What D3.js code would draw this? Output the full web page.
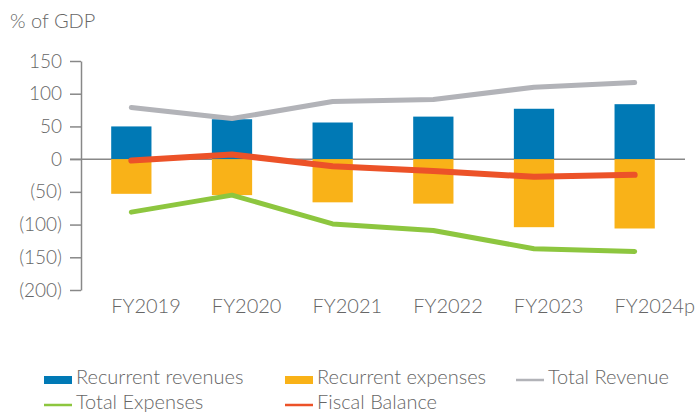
<!DOCTYPE html>
<html>
<head>
  <script src="https://d3js.org/d3.v7.min.js"></script>
  <style>
    body { margin: 0; background: #fff; }
    svg text { font-family: Lato, "Open Sans", sans-serif; font-weight: 300; fill: #666; }
  </style>
</head>
<body>
  <div id="chart_div"></div>

  <script>
    // Chart values (% of GDP)
    var categories = ["FY2019", "FY2020", "FY2021", "FY2022", "FY2023", "FY2024p"];
    var recurrentRevenues = [50, 61, 56, 65, 77, 84];
    var recurrentExpenses = [-53, -55, -66, -68, -104, -106];
    var totalRevenue = [79, 62, 88, 91, 110, 117];
    var totalExpenses = [-81, -55, -99, -109, -137, -141];
    var fiscalBalance = [-2, 7, -11, -18, -27, -24];
    var yTicks = [-200, -150, -100, -50, 0, 50, 100, 150];

    var width = 698, height = 412;

    var svg = d3.select("#chart_div")
      .append("svg")
      .attr("width", width)
      .attr("height", height);

    var x = d3.scaleBand()
      .domain(categories)
      .range([81, 685])
      .paddingInner(0.6)
      .paddingOuter(0.3);

    var y = d3.scaleLinear()
      .domain([-200, 150])
      .range([290, 61]);

    // title
    svg.append("text")
      .attr("x", 10)
      .attr("y", 28)
      .style("font-size", "20px")
      .text("% of GDP");

    // y axis
    var yAxis = svg.append("g")
      .attr("transform", "translate(81,0)")
      .call(d3.axisLeft(y)
        .tickValues(yTicks)
        .tickSize(11)
        .tickSizeOuter(0)
        .tickPadding(8)
        .tickFormat(function(d) { return d < 0 ? "(" + Math.abs(d) + ")" : d; }));
    yAxis.select(".domain").attr("stroke", "#888").attr("stroke-width", 1.5);
    yAxis.selectAll(".tick line").attr("stroke", "#888").attr("stroke-width", 1.5);
    yAxis.selectAll(".tick text")
      .style("font-size", "19px")
      .style("font-family", "Lato, 'Open Sans', sans-serif")
      .attr("fill", "#666");

    // zero line
    svg.append("line")
      .attr("x1", 70)
      .attr("x2", 685)
      .attr("y1", y(0))
      .attr("y2", y(0))
      .attr("stroke", "#888")
      .attr("stroke-width", 1.5);

    // bars
    svg.selectAll(".barRev")
      .data(recurrentRevenues)
      .enter()
      .append("rect")
      .attr("class", "barRev")
      .attr("x", function(d, i) { return x(categories[i]); })
      .attr("width", x.bandwidth())
      .attr("y", function(d) { return y(d); })
      .attr("height", function(d) { return y(0) - y(d); })
      .attr("fill", "#0079b5");

    svg.selectAll(".barExp")
      .data(recurrentExpenses)
      .enter()
      .append("rect")
      .attr("class", "barExp")
      .attr("x", function(d, i) { return x(categories[i]); })
      .attr("width", x.bandwidth())
      .attr("y", y(0))
      .attr("height", function(d) { return y(d) - y(0); })
      .attr("fill", "#f9b218");

    // lines
    var line = d3.line()
      .x(function(d, i) { return x(categories[i]) + x.bandwidth() / 2; })
      .y(function(d) { return y(d); });

    var lineSeries = [
      { values: totalRevenue, color: "#b2b3b8", w: 5 },
      { values: totalExpenses, color: "#8dc63f", w: 5 },
      { values: fiscalBalance, color: "#ec5228", w: 6 }
    ];

    svg.selectAll(".series")
      .data(lineSeries)
      .enter()
      .append("path")
      .attr("class", "series")
      .attr("d", function(d) { return line(d.values); })
      .attr("fill", "none")
      .attr("stroke", function(d) { return d.color; })
      .attr("stroke-width", function(d) { return d.w; })
      .attr("stroke-linecap", "round")
      .attr("stroke-linejoin", "round");

    // x labels, left-aligned with the bars
    svg.selectAll(".xLabel")
      .data(categories)
      .enter()
      .append("text")
      .attr("class", "xLabel")
      .attr("x", function(d) { return x(d); })
      .attr("y", 313)
      .style("font-size", "20px")
      .text(function(d) { return d; });

    // legend
    var legendItems = [
      { name: "Recurrent revenues", color: "#0079b5", type: "rect", lx: 44, ly: 380 },
      { name: "Recurrent expenses", color: "#f9b218", type: "rect", lx: 285, ly: 380 },
      { name: "Total Revenue", color: "#b2b3b8", type: "line", lx: 516, ly: 380 },
      { name: "Total Expenses", color: "#8dc63f", type: "line", lx: 44, ly: 405 },
      { name: "Fiscal Balance", color: "#ec5228", type: "line", lx: 285, ly: 405 }
    ];

    var legend = svg.selectAll(".legendItem")
      .data(legendItems)
      .enter()
      .append("g")
      .attr("class", "legendItem")
      .attr("transform", function(d) { return "translate(" + d.lx + "," + d.ly + ")"; });

    legend.filter(function(d) { return d.type === "rect"; })
      .append("rect")
      .attr("x", 0)
      .attr("y", -4)
      .attr("width", 28)
      .attr("height", 8)
      .attr("fill", function(d) { return d.color; });

    legend.filter(function(d) { return d.type === "line"; })
      .append("line")
      .attr("x1", 0)
      .attr("x2", 28)
      .attr("y1", 0)
      .attr("y2", 0)
      .attr("stroke", function(d) { return d.color; })
      .attr("stroke-width", 2.5);

    legend.append("text")
      .attr("x", 32)
      .attr("y", 4)
      .style("font-size", "20px")
      .text(function(d) { return d.name; });
  </script>
</body>
</html>
